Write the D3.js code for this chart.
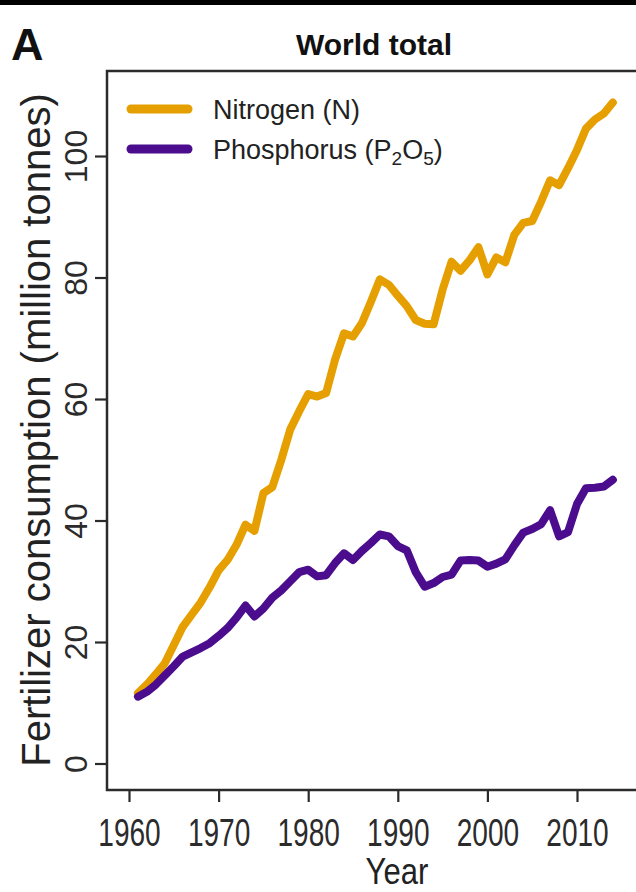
<!DOCTYPE html>
<html>
<head>
<meta charset="utf-8">
<script src="https://cdn.jsdelivr.net/npm/d3@7"></script>
<style>
  html, body { margin: 0; padding: 0; background: #fff; }
  svg { display: block; font-family: "Liberation Sans", Arial, Helvetica, sans-serif; }
</style>
</head>
<body>
<svg id="chart" width="636" height="892"></svg>
<script>
// World fertilizer consumption, million tonnes per year
const years = [1961,1962,1963,1964,1965,1966,1967,1968,1969,1970,
               1971,1972,1973,1974,1975,1976,1977,1978,1979,1980,
               1981,1982,1983,1984,1985,1986,1987,1988,1989,1990,
               1991,1992,1993,1994,1995,1996,1997,1998,1999,2000,
               2001,2002,2003,2004,2005,2006,2007,2008,2009,2010,
               2011,2012,2013,2014];

const nitrogen = [11.6,13.0,14.7,16.5,19.5,22.5,24.5,26.5,29.0,31.8,
                  33.5,36.0,39.3,38.3,44.5,45.5,50.0,55.0,58.0,60.8,
                  60.4,61.0,66.5,70.8,70.3,72.5,76.0,79.7,78.8,77.0,
                  75.3,73.0,72.4,72.3,78.0,82.6,81.1,82.8,85.0,80.5,
                  83.3,82.5,87.0,89.0,89.3,92.5,96.0,95.2,98.0,101.0,
                  104.5,106.0,107.0,108.8];

const phosphorus = [11.0,11.8,13.0,14.5,16.0,17.6,18.3,19.0,19.8,21.0,
                    22.3,24.0,26.0,24.2,25.5,27.3,28.5,30.0,31.5,31.9,
                    30.8,31.0,33.0,34.6,33.5,35.0,36.3,37.7,37.4,35.8,
                    35.1,31.5,29.1,29.7,30.7,31.1,33.4,33.5,33.4,32.4,
                    32.9,33.6,35.9,38.0,38.6,39.4,41.7,37.4,38.1,42.7,
                    45.3,45.4,45.6,46.7];

const yTicks = [0, 20, 40, 60, 80, 100];
const xTicks = [1960, 1970, 1980, 1990, 2000, 2010];

const colors = { n: "#E69F00", p: "#4B0C8E" };

const svg = d3.select("#chart");

// plot frame (right edge runs past the page)
const frame = { left: 107, top: 71, bottom: 790, right: 645 };

const x = d3.scaleLinear().domain([1960, 2010]).range([129, 577]);
const y = d3.scaleLinear().domain([0, 100]).range([763.5, 156]);

const axisColor = "#2b2b2b";

// frame box
svg.append("rect")
  .attr("x", frame.left).attr("y", frame.top)
  .attr("width", frame.right - frame.left)
  .attr("height", frame.bottom - frame.top)
  .attr("fill", "none")
  .attr("stroke", axisColor)
  .attr("stroke-width", 2.5);

// y axis, labels written along the axis
const gy = svg.append("g")
  .attr("transform", `translate(${frame.left},0)`)
  .call(d3.axisLeft(y).tickValues(yTicks).tickSize(12).tickFormat(d3.format("d")));
gy.select(".domain").remove();
gy.selectAll(".tick line").attr("stroke", axisColor).attr("stroke-width", 2.2);
gy.selectAll(".tick text")
  .attr("x", null).attr("dy", null)
  .attr("text-anchor", "middle")
  .attr("transform", "translate(-20,0) rotate(-90)")
  .attr("fill", axisColor)
  .style("font-size", "32px")
  .style("font-family", "'Liberation Sans', Arial, sans-serif");

// x axis with narrow, tall year labels
const gx = svg.append("g")
  .attr("transform", `translate(0,${frame.bottom})`)
  .call(d3.axisBottom(x).tickValues(xTicks).tickSize(12).tickPadding(16).tickFormat(d3.format("d")));
gx.select(".domain").remove();
gx.selectAll(".tick line").attr("stroke", axisColor).attr("stroke-width", 2.2);
gx.selectAll(".tick text")
  .attr("fill", axisColor)
  .attr("transform", "scale(0.72,1)")
  .style("font-size", "39px")
  .style("font-family", "'Liberation Sans', Arial, sans-serif");

// series lines
const line = d3.line()
  .x((d, i) => x(years[i]))
  .y(d => y(d))
  .curve(d3.curveLinear);

svg.append("path")
  .datum(nitrogen)
  .attr("fill", "none")
  .attr("stroke", colors.n)
  .attr("stroke-width", 8)
  .attr("stroke-linejoin", "round")
  .attr("stroke-linecap", "round")
  .attr("d", line);

svg.append("path")
  .datum(phosphorus)
  .attr("fill", "none")
  .attr("stroke", colors.p)
  .attr("stroke-width", 8)
  .attr("stroke-linejoin", "round")
  .attr("stroke-linecap", "round")
  .attr("d", line);

// legend
const legend = svg.append("g");
const legendRows = [
  { key: "n", y: 109 },
  { key: "p", y: 149 }
];
legendRows.forEach(r => {
  legend.append("line")
    .attr("x1", 131).attr("x2", 188)
    .attr("y1", r.y).attr("y2", r.y)
    .attr("stroke", colors[r.key])
    .attr("stroke-width", 9)
    .attr("stroke-linecap", "round");
});
legend.append("text")
  .attr("x", 213).attr("y", 119)
  .attr("fill", "#222")
  .style("font-size", "27px")
  .text("Nitrogen (N)");
const pText = legend.append("text")
  .attr("x", 213).attr("y", 159)
  .attr("fill", "#222")
  .style("font-size", "27px");
pText.append("tspan").text("Phosphorus (P");
pText.append("tspan").attr("dy", 6).style("font-size", "19px").text("2");
pText.append("tspan").attr("dy", -6).text("O");
pText.append("tspan").attr("dy", 6).style("font-size", "19px").text("5");
pText.append("tspan").attr("dy", -6).text(")");

// titles
svg.append("text")
  .attr("x", 374).attr("y", 55)
  .attr("text-anchor", "middle")
  .attr("fill", "#111")
  .style("font-size", "30px")
  .style("font-weight", "bold")
  .text("World total");

svg.append("text")
  .attr("x", 11).attr("y", 60)
  .attr("fill", "#111")
  .style("font-size", "45px")
  .style("font-weight", "bold")
  .text("A");

svg.append("text")
  .attr("transform", "translate(397,884) scale(0.84,1)")
  .attr("text-anchor", "middle")
  .attr("fill", "#222")
  .style("font-size", "37px")
  .text("Year");

svg.append("text")
  .attr("transform", "translate(50,430) rotate(-90)")
  .attr("text-anchor", "middle")
  .attr("fill", "#222")
  .style("font-size", "40px")
  .text("Fertilizer consumption (million tonnes)");

// top rule across the page
svg.append("rect")
  .attr("x", 0).attr("y", 0)
  .attr("width", 636).attr("height", 5)
  .attr("fill", "#000");
</script>
</body>
</html>
